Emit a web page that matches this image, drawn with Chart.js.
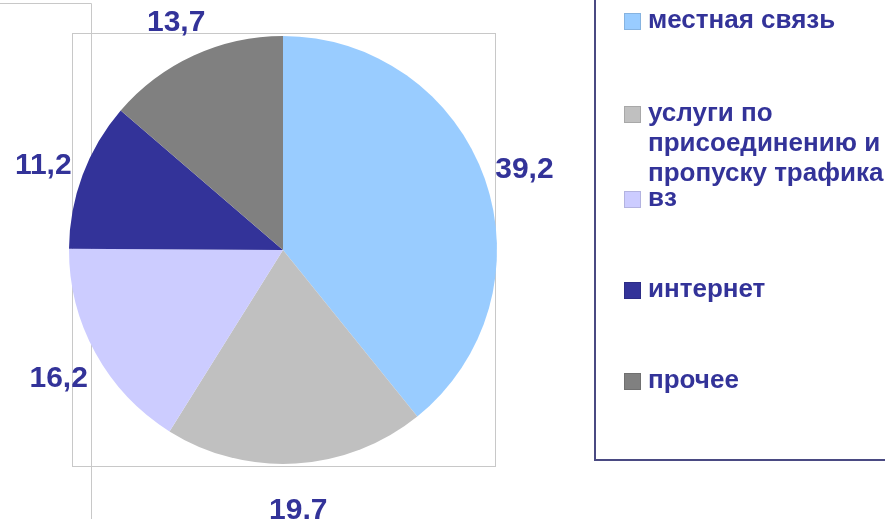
<!DOCTYPE html>
<html>
<head>
<meta charset="utf-8">
<script src="https://cdn.jsdelivr.net/npm/chart.js@4"></script>
<style>
  html, body { margin: 0; padding: 0; background: #fff; }
  #wrap { width: 885px; height: 519px; position: relative; }
</style>
</head>
<body>
<div id="wrap"><canvas id="chartPie" width="885" height="519"></canvas></div>
<script>
const categories = [
  "местная связь",
  "услуги по присоединению и пропуску трафика",
  "вз",
  "интернет",
  "прочее",
];
// how the legend wraps each category
const legendLines = [
  ["местная связь"],
  ["услуги по", "присоединению и", "пропуску трафика"],
  ["вз"],
  ["интернет"],
  ["прочее"],
];
const shares = [39.2, 19.7, 16.2, 11.2, 13.7];
const colors = ["#99ccff", "#c0c0c0", "#ccccff", "#333399", "#808080"];

const navy = "#333399";
const legendRowY = [21, 114, 199, 290, 381];

// frame lines behind the pie
const framePlugin = {
  id: "frame",
  beforeDraw(chart) {
    const ctx = chart.ctx;
    const a = chart.chartArea;
    ctx.save();
    ctx.strokeStyle = "#c8c8c8";
    ctx.lineWidth = 1;
    // outer frame piece
    ctx.beginPath();
    ctx.moveTo(0, 3.5);
    ctx.lineTo(91.5, 3.5);
    ctx.lineTo(91.5, 519);
    ctx.stroke();
    // plot area box
    ctx.strokeRect(a.left + 3.5, a.top - 2.5, a.right - a.left - 5, a.bottom - a.top + 5);
    // legend box
    ctx.strokeStyle = "#4a4a82";
    ctx.lineWidth = 2;
    ctx.beginPath();
    ctx.moveTo(595, 0);
    ctx.lineTo(595, 460);
    ctx.lineTo(885, 460);
    ctx.stroke();
    ctx.restore();
  },
};

// value labels outside each slice
const valuePlugin = {
  id: "values",
  afterDatasetsDraw(chart) {
    const ctx = chart.ctx;
    const meta = chart.getDatasetMeta(0);
    ctx.save();
    ctx.font = "bold 30px 'Liberation Sans', Arial, sans-serif";
    ctx.fillStyle = navy;
    ctx.textAlign = "center";
    ctx.textBaseline = "middle";
    meta.data.forEach((arc, i) => {
      const p = arc.getProps(["x", "y", "startAngle", "endAngle", "outerRadius"], true);
      const mid = (p.startAngle + p.endAngle) / 2;
      const d = p.outerRadius + 42;
      const txt = shares[i].toFixed(1).replace(".", ",");
      ctx.fillText(txt, p.x + Math.cos(mid) * d, p.y + Math.sin(mid) * d + 5);
    });
    ctx.restore();
  },
};

// legend on the right
const legendPlugin = {
  id: "sideLegend",
  afterDraw(chart) {
    const ctx = chart.ctx;
    ctx.save();
    ctx.font = "bold 26px 'Liberation Sans', Arial, sans-serif";
    ctx.textBaseline = "middle";
    ctx.textAlign = "left";
    legendLines.forEach((lines, i) => {
      const y = legendRowY[i];
      ctx.fillStyle = colors[i];
      ctx.fillRect(624, y - 8, 17, 17);
      ctx.strokeStyle = "rgba(0,0,0,0.12)";
      ctx.lineWidth = 1;
      ctx.strokeRect(624.5, y - 7.5, 16, 16);
      ctx.fillStyle = navy;
      lines.forEach((t, j) => ctx.fillText(t, 648, y + j * 30));
    });
    ctx.restore();
  },
};

const dataPie = {
  labels: categories,
  datasets: [
    {
      data: shares,
      backgroundColor: colors,
      borderWidth: 0,
    },
  ],
};

const configPie = {
  type: "pie",
  data: dataPie,
  options: {
    responsive: false,
    animation: false,
    layout: {
      padding: { left: 69, top: 36, right: 388, bottom: 55 },
    },
    plugins: {
      legend: { display: false },
      tooltip: { enabled: false },
    },
  },
  plugins: [framePlugin, valuePlugin, legendPlugin],
};

var chartPie = new Chart(document.getElementById("chartPie"), configPie);
</script>
</body>
</html>
